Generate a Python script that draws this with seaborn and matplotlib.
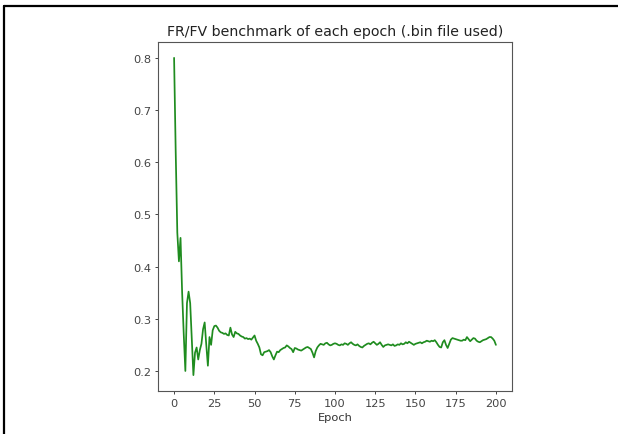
import matplotlib
matplotlib.use("Agg")
import matplotlib.pyplot as plt
import seaborn as sns
import numpy as np
import pandas as pd
from matplotlib.lines import Line2D

# ---- data ----
epochs = list(range(0, 201))
fr_fv = [
    0.800, 0.620, 0.465, 0.410, 0.455, 0.350, 0.270, 0.200, 0.330, 0.352,
    0.330, 0.260, 0.192, 0.235, 0.245, 0.222, 0.240, 0.252, 0.280, 0.293,
    0.250, 0.210, 0.265, 0.250, 0.278, 0.286, 0.287, 0.283, 0.277, 0.274,
    0.273, 0.271, 0.272, 0.269, 0.268, 0.283, 0.270, 0.265, 0.275, 0.272,
    0.271, 0.268, 0.266, 0.265, 0.262, 0.263, 0.261, 0.262, 0.260, 0.264,
    0.268, 0.258, 0.252, 0.245, 0.232, 0.230, 0.236, 0.237, 0.238, 0.240,
    0.236, 0.228, 0.222, 0.230, 0.237, 0.236, 0.240, 0.242, 0.244, 0.245,
    0.249, 0.247, 0.244, 0.242, 0.236, 0.244, 0.243, 0.241, 0.240, 0.239,
    0.241, 0.243, 0.245, 0.246, 0.244, 0.242, 0.235, 0.226, 0.238, 0.245,
    0.249, 0.252, 0.251, 0.250, 0.253, 0.254, 0.251, 0.249, 0.250, 0.252,
    0.253, 0.252, 0.250, 0.249, 0.251, 0.250, 0.253, 0.252, 0.250, 0.253,
    0.255, 0.252, 0.250, 0.249, 0.251, 0.248, 0.246, 0.245, 0.248, 0.250,
    0.252, 0.253, 0.251, 0.254, 0.256, 0.253, 0.250, 0.252, 0.255, 0.250,
    0.246, 0.249, 0.250, 0.251, 0.250, 0.249, 0.251, 0.248, 0.249, 0.251,
    0.250, 0.253, 0.251, 0.252, 0.255, 0.253, 0.256, 0.254, 0.252, 0.250,
    0.252, 0.253, 0.254, 0.255, 0.253, 0.255, 0.256, 0.258, 0.257, 0.256,
    0.258, 0.257, 0.259, 0.255, 0.250, 0.246, 0.245, 0.255, 0.259, 0.250,
    0.244, 0.252, 0.260, 0.263, 0.262, 0.261, 0.260, 0.259, 0.258, 0.258,
    0.260, 0.259, 0.265, 0.261, 0.257, 0.260, 0.263, 0.262, 0.258, 0.256,
    0.255, 0.257, 0.259, 0.260, 0.261, 0.263, 0.265, 0.265, 0.262, 0.258,
    0.250,
]
title_text = "FR/FV benchmark of each epoch (.bin file used)"
x_label = "Epoch"

df = pd.DataFrame({"epoch": epochs, "value": fr_fv})

sns.set_style("ticks")
plt.rcParams["font.family"] = ["DejaVu Sans"]

fig = plt.figure(figsize=(6.18, 4.35), dpi=100)
ax = fig.add_axes([158 / 618, 1 - 392 / 435, (512 - 158) / 618, (392 - 43) / 435])

sns.lineplot(data=df, x="epoch", y="value", ax=ax, color="#1f8c1f", linewidth=1.25)

ax.set_xticks([0, 25, 50, 75, 100, 125, 150, 175, 200])
ax.set_yticks([0.2, 0.3, 0.4, 0.5, 0.6, 0.7, 0.8])
ax.set_yticklabels(["0.2", "0.3", "0.4", "0.5", "0.6", "0.7", "0.8"])
ax.set_xlabel(x_label, fontsize=8.2, color="#333333", labelpad=3)
ax.set_ylabel("")
ax.set_title(title_text, fontsize=10.2, color="#222222", pad=5)
ax.tick_params(axis="both", labelsize=8.2, length=2.5, width=0.7,
               colors="#444444", pad=2.5)
for s in ax.spines.values():
    s.set_color("#555555")
    s.set_linewidth(0.8)

# outer black frame (top and left edges visible in reference)
fig.add_artist(Line2D([4 / 618, 1.0], [1 - 7 / 435, 1 - 7 / 435],
                      transform=fig.transFigure, color="black", linewidth=1.6))
fig.add_artist(Line2D([4 / 618, 4 / 618], [0.0, 1 - 7 / 435],
                      transform=fig.transFigure, color="black", linewidth=1.6))

fig.savefig("out.png", dpi=100, facecolor="white")
